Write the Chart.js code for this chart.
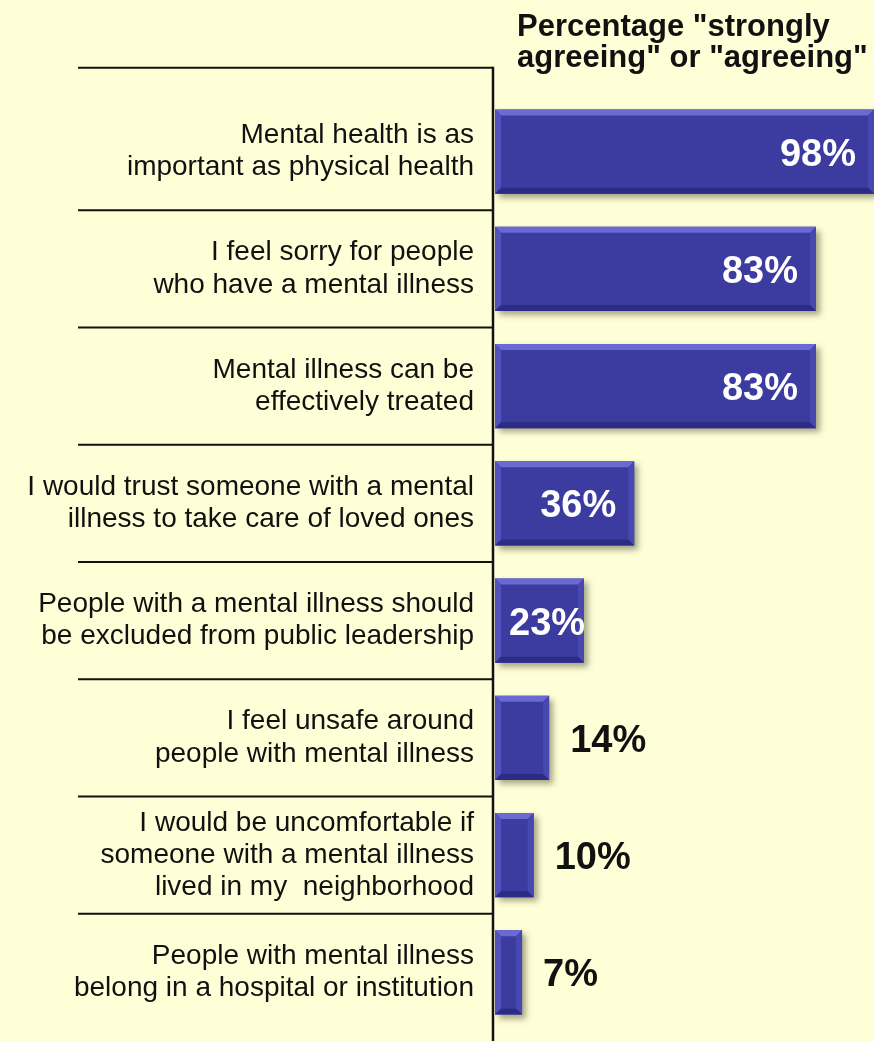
<!DOCTYPE html>
<html>
<head>
<meta charset="utf-8">
<script src="https://cdn.jsdelivr.net/npm/chart.js@4.4.1/dist/chart.umd.min.js"></script>
<style>
  html, body { margin: 0; padding: 0; background: #ffffd7; overflow: hidden; }
  #wrap { position: relative; width: 874px; height: 1041px; }
  #title {
    position: absolute; left: 517px; top: 10px;
    font: bold 31px "Liberation Sans", Arial, sans-serif;
    line-height: 31px; color: #111;
  }
</style>
</head>
<body>
<div id="wrap">
  <canvas id="attitudeChart"></canvas>
  <div id="title">Percentage "strongly<br>agreeing" or "agreeing"</div>
</div>
<script>
// Survey statements and share agreeing with each
const statements = [
  ["Mental health is as", "important as physical health"],
  ["I feel sorry for people", "who have a mental illness"],
  ["Mental illness can be", "effectively treated"],
  ["I would trust someone with a mental", "illness to take care of loved ones"],
  ["People with a mental illness should", "be excluded from public leadership"],
  ["I feel unsafe around", "people with mental illness"],
  ["I would be uncomfortable if", "someone with a mental illness", "lived in my  neighborhood"],
  ["People with mental illness", "belong in a hospital or institution"],
];
const agreePct = [98, 83, 83, 36, 23, 14, 10, 7];

const BAR_COLOR  = "#3b3ba0";
const INK        = "#111111";
const LABEL_FONT = '"Liberation Sans", Arial, sans-serif';

// shadow behind the bars
const barShadow = {
  id: "barShadow",
  beforeDatasetsDraw(chart) {
    const ctx = chart.ctx;
    ctx.save();
    ctx.shadowColor   = "rgba(60,60,40,0.45)";
    ctx.shadowBlur    = 6;
    ctx.shadowOffsetX = 4;
    ctx.shadowOffsetY = 4;
  },
  afterDatasetsDraw(chart) {
    chart.ctx.restore();
  },
};

// bevelled edges, value labels, table rules and the axis line
const decorations = {
  id: "decorations",
  afterDatasetsDraw(chart) {
    const ctx  = chart.ctx;
    const area = chart.chartArea;
    const bars = chart.getDatasetMeta(0).data;
    const b = 6;

    ctx.save();
    ctx.beginPath();
    ctx.rect(area.left, 0, area.right - area.left, chart.height);
    ctx.clip();
    bars.forEach(function (bar) {
      const top = bar.y - bar.height / 2;
      const bot = bar.y + bar.height / 2;
      const l = bar.base, r = bar.x;
      const quad = function (pts, col) {
        ctx.fillStyle = col;
        ctx.beginPath();
        ctx.moveTo(pts[0][0], pts[0][1]);
        pts.slice(1).forEach(function (p) { ctx.lineTo(p[0], p[1]); });
        ctx.closePath();
        ctx.fill();
      };
      quad([[l, top], [r, top], [r - b, top + b], [l + b, top + b]], "#6a6ad2");
      quad([[l, top], [l + b, top + b], [l + b, bot - b], [l, bot]], "#5252bc");
      quad([[r, top], [r - b, top + b], [r - b, bot - b], [r, bot]], "#4848b0");
      quad([[l, bot], [r, bot], [r - b, bot - b], [l + b, bot - b]], "#2c2c84");
    });
    ctx.restore();

    // value labels
    ctx.save();
    ctx.font = "bold 38px " + LABEL_FONT;
    ctx.textAlign = "left";
    ctx.textBaseline = "alphabetic";
    bars.forEach(function (bar, i) {
      const txt = agreePct[i] + "%";
      const w = ctx.measureText(txt).width;
      const y = bar.y + 14;
      if (agreePct[i] >= 20) {
        ctx.fillStyle = "#ffffff";
        const x = Math.max(Math.min(bar.x, area.right) - 18 - w, bar.base + 14);
        ctx.fillText(txt, x, y);
      } else {
        ctx.fillStyle = INK;
        ctx.fillText(txt, bar.x + 21, y);
      }
    });
    ctx.restore();

    // rules between statements
    const yScale = chart.scales.y;
    const axisX = area.left - 2;
    const ruleLeft = 78;
    ctx.save();
    ctx.strokeStyle = INK;
    ctx.lineWidth = 2;
    ctx.beginPath();
    const topRule = yScale.getPixelForValue(0) - 84;
    ctx.moveTo(ruleLeft, topRule);
    ctx.lineTo(axisX, topRule);
    for (let i = 0; i < statements.length - 1; i++) {
      const y = (yScale.getPixelForValue(i) + yScale.getPixelForValue(i + 1)) / 2;
      ctx.moveTo(ruleLeft, y);
      ctx.lineTo(axisX, y);
    }
    ctx.stroke();
    ctx.lineWidth = 2.5;
    ctx.beginPath();
    ctx.moveTo(axisX, topRule - 1);
    ctx.lineTo(axisX, chart.height);
    ctx.stroke();
    ctx.restore();
  },
};

new Chart(document.getElementById("attitudeChart"), {
  type: "bar",
  data: {
    labels: statements,
    datasets: [{
      data:            agreePct,
      backgroundColor: BAR_COLOR,
      borderWidth:     0,
      barPercentage:      0.72,
      categoryPercentage: 1.0,
    }],
  },
  options: {
    indexAxis: "y",
    responsive: true,
    maintainAspectRatio: false,
    animation: false,
    layout: { padding: { top: 93, bottom: 10, left: 0, right: 0 } },
    plugins: {
      legend:  { display: false },
      tooltip: { enabled: false },
    },
    scales: {
      x: {
        display: false,
        min: 0,
        max: 98,
      },
      y: {
        grid:   { display: false, drawTicks: false },
        border: { display: false },
        afterFit: function (scale) {
          scale.width = 495;
          //labels sit inside their rows, no extra room needed above/below
          scale.paddingTop = 0;
          scale.paddingBottom = 0;
        },
        ticks: {
          color: INK,
          padding: 21,
          font: { family: LABEL_FONT, size: 28, lineHeight: 1.15 },
        },
      },
    },
  },
  plugins: [barShadow, decorations],
});
</script>
</body>
</html>
